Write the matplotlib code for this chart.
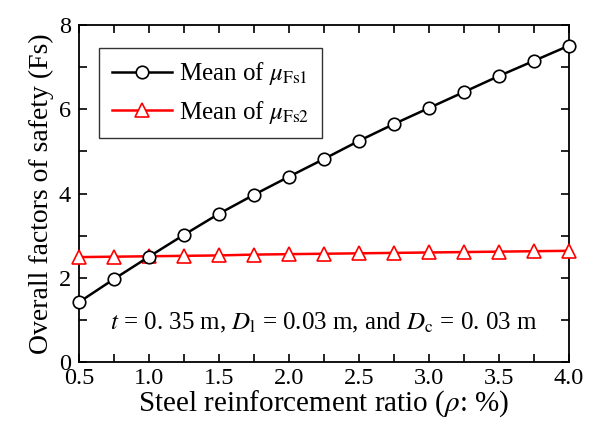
import matplotlib
matplotlib.use("Agg")
import matplotlib.pyplot as plt
from matplotlib.ticker import MultipleLocator

plt.rcParams['font.family'] = ['Liberation Serif', 'DejaVu Serif']
plt.rcParams['mathtext.fontset'] = 'stix'

rho = [0.5, 0.75, 1.0, 1.25, 1.5, 1.75, 2.0, 2.25, 2.5, 2.75, 3.0, 3.25, 3.5, 3.75, 4.0]
fs1 = [1.42, 1.97, 2.50, 3.02, 3.52, 3.97, 4.40, 4.82, 5.25, 5.65, 6.03, 6.41, 6.79, 7.15, 7.51]
fs2 = [2.49, 2.50, 2.51, 2.52, 2.53, 2.55, 2.56, 2.57, 2.58, 2.59, 2.60, 2.61, 2.62, 2.63, 2.64]

fig = plt.figure(figsize=(5.93, 4.24), dpi=100)
ax = fig.add_axes([79/593, 1-362/424, (569-79)/593, (362-25)/424])

ax.plot(rho, fs2, color='red', lw=1.8, marker='^', ms=9.5, mfc='white', mec='red',
        mew=1.2, label=r'Mean of $\mu_{\mathrm{Fs2}}$', zorder=3, clip_on=False)
ax.plot(rho, fs1, color='black', lw=1.8, marker='o', ms=9, mfc='white', mec='black',
        mew=1.2, label=r'Mean of $\mu_{\mathrm{Fs1}}$', zorder=4, clip_on=False)

ax.set_xlim(0.5, 4.0)
ax.set_ylim(0, 8)
ax.xaxis.set_major_locator(MultipleLocator(0.5))
ax.xaxis.set_minor_locator(MultipleLocator(0.25))
ax.yaxis.set_major_locator(MultipleLocator(2))
ax.yaxis.set_minor_locator(MultipleLocator(1))
ax.tick_params(which='both', direction='in', top=True, right=True, labelsize=17.5, width=1.2)
ax.tick_params(which='major', length=6)
ax.tick_params(which='minor', length=6)
ax.tick_params(axis='x', pad=4)
ax.tick_params(axis='y', pad=6)
ax.set_xticklabels([f'{v:.1f}' for v in ax.get_xticks()])
for s in ax.spines.values():
    s.set_linewidth(1.3)

ax.set_xlabel(r'Steel reinforcement ratio ($\rho$: %)', fontsize=21, labelpad=0)
ax.set_ylabel('Overall factors of safety (Fs)', fontsize=20, labelpad=3)

handles, labels = ax.get_legend_handles_labels()
leg = ax.legend(handles[::-1], labels[::-1], loc='upper left', bbox_to_anchor=(0.041, 0.932),
                borderaxespad=0, fontsize=18, frameon=True, fancybox=False, edgecolor='black',
                handlelength=2.4, handletextpad=0.3, borderpad=0.5, labelspacing=0.45)
leg.get_frame().set_linewidth(1.0)

ax.text(0.5, 0.115, r'$t$ = 0. 35 m, $D_{\mathrm{l}}$ = 0.03 m, and $D_{\mathrm{c}}$ = 0. 03 m',
        transform=ax.transAxes, ha='center', va='center', fontsize=18)

fig.savefig('out.png', dpi=100)
